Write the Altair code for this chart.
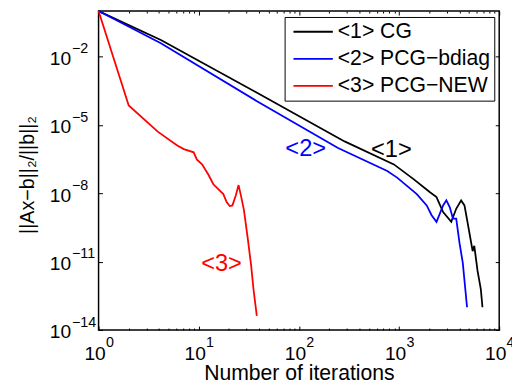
import math
import altair as alt
import pandas as pd

FONT = "Liberation Sans"

series_names = ["<1> CG", "<2> PCG−bdiag", "<3> PCG−NEW"]
series_colors = ["#000000", "#0000ff", "#ff0000"]

cg_x = [1, 4.19, 37.4, 286, 888, 1396, 2037, 2366, 2754, 3321, 3722, 4168, 4500, 4851, 5432, 5638, 6081, 6550, 6808]
cg_y = [1, 5.37e-2, 2.75e-4, 1.9e-6, 1.86e-7, 4.2e-8, 1.12e-8, 6.8e-9, 1.5e-9, 5.6e-10, 2.1e-9, 4.9e-9, 2.95e-9,
        4.8e-10, 2.9e-11, 5.0e-11, 3.9e-12, 6.3e-13, 1.0e-13]

bd_x = [1, 4.19, 37.4, 246, 763, 957, 1504, 1888, 2114, 2366, 2754, 2966, 3206, 3453, 3722, 4018, 4329, 4775]
bd_y = [1, 3.9e-2, 1.17e-4, 9.8e-7, 9.5e-8, 4.9e-8, 9.3e-9, 2.95e-9, 1.1e-9, 5.6e-10, 2.95e-9, 4.9e-9, 2.5e-9,
        7.8e-10, 7.8e-10, 6.5e-11, 8.9e-12, 1.0e-13]

new_x = [1, 2, 3.9, 6.1, 7.1, 8.9, 9.6, 10.8, 12.5, 14.0, 17.6, 19, 20.4, 21.7, 23.4, 25, 26.6, 28.3, 31, 33.4, 35.2, 38]
new_y = [1, 7.2e-5, 5.1e-6, 1.26e-6, 8.7e-7, 6.3e-7, 3.0e-7, 1.86e-7, 6.5e-8, 2.5e-8, 9.3e-9, 4.1e-9, 2.75e-9,
         2.95e-9, 7.9e-9, 2.3e-8, 6.8e-9, 1.8e-9, 9.1e-11, 6.5e-12, 6.3e-13, 4.2e-14]

ann_labels = ["<1>", "<2>", "<3>"]
ann_x = [839, 117, 16.9]
ann_y = [7.6e-7, 8.8e-7, 7.6e-12]

x_major = [1, 10, 100, 1000, 10000]
x_exponents = ["0", "1", "2", "3", "4"]
x_minor = [m * d for d in [1, 10, 100, 1000] for m in range(2, 10)]
y_major = [1e-14, 1e-11, 1e-8, 1e-5, 1e-2]
y_exponents = ["−14", "−11", "−8", "−5", "−2"]

rows = []
for name, xs, ys in zip(series_names, [cg_x, bd_x, new_x], [cg_y, bd_y, new_y]):
    for a, b in zip(xs, ys):
        rows.append({"series": name, "x": a, "y": b})
df = pd.DataFrame(rows)
ann_df = pd.DataFrame({"label": ann_labels, "x": ann_x, "y": ann_y})


def exp_expr(vals, labels):
    parts = []
    for v, lab in zip(vals, labels):
        e = round(math.log10(v))
        parts.append(f"round(log(datum.value)/LN10) == {e} ? '{lab}'")
    return " : ".join(parts) + " : ''"


xscale = alt.Scale(type="log", domain=[1, 10000], nice=False)
yscale = alt.Scale(type="log", domain=[1e-14, 1], nice=False)

common = dict(grid=False, domain=False, tickColor="black", tickWidth=1, labelColor="black",
              titleColor="black", labelFont=FONT, titleFont=FONT, labelOverlap=False, labelFlush=False)

BASE_FS = 19.5
EXP_FS = 14.5

ax_bottom = alt.Axis(orient="bottom", values=x_major, labelExpr="'10'", labelAlign="center", labelOffset=-4,
                     tickSize=4, offset=-4, labelPadding=15, labelFontSize=BASE_FS,
                     title="Number of iterations", titleFontSize=21.5, titleFontWeight="normal",
                     titleX=203.5, titleY=54, titleBaseline="alphabetic", titleAlign="center", **common)
ax_bottom_exp = alt.Axis(orient="bottom", values=x_major, labelExpr=exp_expr(x_major, x_exponents),
                         labelAlign="left", labelOffset=7, ticks=False, tickSize=0, labelPadding=5.5,
                         labelFontSize=EXP_FS, title=None, **common)
ax_bottom_minor = alt.Axis(orient="bottom", values=x_minor, labels=False, tickSize=2, offset=-2,
                           title=None, **common)
ax_top = alt.Axis(orient="top", values=x_major, labels=False, tickSize=4, offset=-4, title=None, **common)
ax_top_minor = alt.Axis(orient="top", values=x_minor, labels=False, tickSize=2, offset=-2, title=None, **common)

ax_left = alt.Axis(orient="left", values=y_major, labelExpr="'10'", labelAlign="right", labelBaseline="middle",
                   labelOffset=2, tickSize=4, offset=-4, labelPadding=28.3, labelFontSize=BASE_FS,
                   title="||Ax−b||₂/||b||₂", titleFontSize=20, titleFontWeight="normal",
                   titleX=-76, titleY=166, titleAngle=270, titleAlign="center", titleBaseline="middle",
                   **common)
ax_left_exp = alt.Axis(orient="left", values=y_major, labelExpr=exp_expr(y_major, y_exponents),
                       labelAlign="left", labelBaseline="middle", labelOffset=-8, ticks=False, tickSize=0,
                       labelPadding=27.5, labelFontSize=EXP_FS, title=None, **common)
ax_right = alt.Axis(orient="right", values=y_major, labels=False, tickSize=4, offset=-4, title=None, **common)

legend = alt.Legend(orient="none", legendX=189, legendY=6, title=None, strokeColor="black",
                    fillColor="white", padding=4, symbolType="M-0.6,0H3.4", symbolSize=400,
                    symbolStrokeWidth=1.8, labelFontSize=21.5, labelFont=FONT, labelColor="black",
                    labelOffset=28, rowPadding=5.5, labelLimit=400, cornerRadius=0)

lines = alt.Chart(df).mark_line(strokeWidth=1.8).encode(
    x=alt.X("x:Q", scale=xscale, axis=ax_bottom),
    y=alt.Y("y:Q", scale=yscale, axis=ax_left),
    color=alt.Color("series:N", scale=alt.Scale(domain=series_names, range=series_colors), legend=legend),
)

text_axes = [(ax_bottom_minor, ax_right), (ax_bottom_exp, ax_left_exp), (ax_top, None)]
layers = [lines]
for lab, col, (xa, ya) in zip(ann_labels, series_colors, text_axes):
    t = alt.Chart(ann_df).transform_filter(alt.datum.label == lab).mark_text(
        fontSize=24, font=FONT, color=col, align="center", baseline="middle"
    ).encode(
        x=alt.X("x:Q", scale=xscale, axis=xa),
        y=alt.Y("y:Q", scale=yscale, axis=ya),
        text="label:N",
    )
    layers.append(t)

top_minor_layer = alt.Chart(df).mark_point(opacity=0).encode(
    x=alt.X("x:Q", scale=xscale, axis=ax_top_minor),
    y=alt.Y("y:Q", scale=yscale, axis=None),
)
layers.append(top_minor_layer)

chart = alt.layer(*layers).resolve_axis(
    x="independent", y="independent"
).properties(
    width=407, height=324,
    autosize=alt.AutoSizeParams(type="none"),
    padding={"left": 92, "top": 0, "right": 13, "bottom": 70},
    background="white",
).configure_view(stroke="black", strokeWidth=1.5).configure_legend(strokeWidth=1)

chart.save("out.html", embed_options={"renderer": "svg", "actions": False})
